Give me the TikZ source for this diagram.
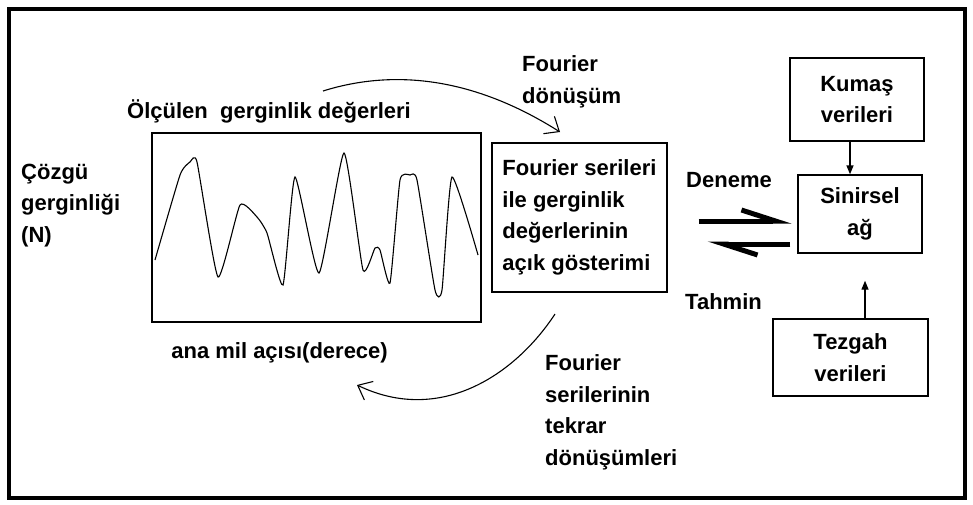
\documentclass[tikz,border=0pt]{standalone}
\usepackage{fontspec}
\setmainfont{Liberation Sans}
\usepackage{tikz}
\usetikzlibrary{positioning, arrows.meta, calc}

\begin{document}
\begin{tikzpicture}[x=1pt, y=-1pt,
    lbl/.style={font=\bfseries\fontsize{22}{31.5}\selectfont, inner sep=0pt, align=left},
    box/.style={rectangle, draw, line width=1.4pt, inner sep=0pt, font=\bfseries\fontsize{22}{31.5}\selectfont},
    flow/.style={-{Triangle[length=9pt, width=7pt]}, line width=1.4pt},
    arcarrow/.style={-{Straight Barb[angle=80:16pt]}, line width=1.1pt},
    eq/.style={-{Straight Barb[harpoon, length=34pt, width=22pt]}, line width=5pt}]
    \useasboundingbox (0,0) rectangle (973,504);
    \draw[line width=4pt] (9,9) rectangle (965,498);

    % measured tension plot
    \node[draw, line width=1.4pt, minimum width=329pt, minimum height=189pt] (plotbox) at (316.5,227.5) {};
    \draw[line width=1.1pt] plot[smooth, tension=0.3] coordinates {
        (155,260) (180,175) (190,162) (197,162) (218,277) (240,205) (257,217) (267,233)
        (283,285) (295,177) (319,273) (344,153) (363,270) (375,248) (380,250) (390,283)
        (400,180) (410,175) (417,180) (435,290) (442,290) (452,177) (478,255)};

    % base = baseline of the last line
    \node[lbl, anchor=base west] (meas) at (127,118) {Ölçülen~~gerginlik değerleri};
    \node[lbl, anchor=base west] (warp) at (21,242) {Çözgü\\gerginliği\\(N)};
    \node[lbl, anchor=base east] (shaft) at (388,358) {ana mil açısı(derece)};

    \node[box, align=left, minimum width=175pt, minimum height=149pt] (fser) at (579.5,217.5)
        {Fourier serileri\\ile gerginlik\\değerlerinin\\açık gösterimi};
    \node[lbl, anchor=base west] (fdon) at (522,103) {Fourier\\dönüşüm};
    \node[lbl, anchor=base west] (finv) at (545,465) {Fourier\\serilerinin\\tekrar\\dönüşümleri};

    \coordinate (topA) at (323,91);
    \coordinate (topB) at (560,132);
    \draw[arcarrow] (topA) .. controls (390,70) and (470,75) .. (topB);
    \coordinate (botA) at (555,314);
    \coordinate (botB) at (357,385);
    \draw[arcarrow] (botA) .. controls (515,375) and (440,425) .. (botB);

    % network side
    \node[box, align=center, minimum width=124pt, minimum height=78pt] (neural) at (860,214) {Sinirsel\\ağ};
    \node[box, align=center, minimum width=134pt, minimum height=83pt] (fabric) at (857,99.5) {Kumaş\\verileri};
    \node[box, align=center, minimum width=155pt, minimum height=77pt] (loom) at (850.5,357.5) {Tezgah\\verileri};

    \node[lbl, anchor=base west] (trial) at (686,187) {Deneme};
    \node[lbl, anchor=base west] (guess) at (685,309) {Tahmin};

    \draw[eq, shorten <=31pt, shorten >=6pt] (fser.east |- 0,221) -- (neural.west |- 0,221);
    \draw[eq, shorten <=7pt, shorten >=40pt] (neural.west |- 0,244) -- (fser.east |- 0,244);

    \draw[flow] ([xshift=-7pt]fabric.south) -- ([xshift=-7pt]fabric.south |- neural.north);
    \draw[flow, shorten >=27pt] ([xshift=14.5pt]loom.north) -- ([xshift=14.5pt]loom.north |- neural.south);
\end{tikzpicture}
\end{document}
